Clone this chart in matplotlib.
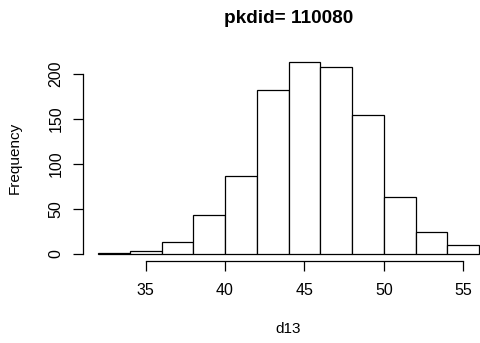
import matplotlib
matplotlib.use('Agg')
import matplotlib.pyplot as plt
import numpy as np

# histogram of d13
bin_edges = [32, 34, 36, 38, 40, 42, 44, 46, 48, 50, 52, 54, 56]
counts = [1, 3, 13, 43, 87, 182, 214, 208, 154, 63, 24, 10]
x_ticks = [35, 40, 45, 50, 55]
y_ticks = [0, 50, 100, 150, 200]

plt.rcParams['font.family'] = ['Liberation Sans', 'DejaVu Sans']

W, H = 480, 343
fig = plt.figure(figsize=(W / 100, H / 100), dpi=100)
# plot region (R style); it runs past the right edge of the picture
left_px, right_px, top_px, bottom_px = 82.7, 494.5, 53.9, 261.4
ax = fig.add_axes([left_px / W, 1 - bottom_px / H,
                   (right_px - left_px) / W, (bottom_px - top_px) / H])

edges = np.array(bin_edges)
ax.bar(edges[:-1], counts, width=np.diff(edges), align='edge',
       color='white', edgecolor='black', linewidth=0.9)

ax.set_xlim(31.04, 56.96)
ax.set_ylim(-8.56, 222.56)

for s in ['top', 'right']:
    ax.spines[s].set_visible(False)
ax.spines['bottom'].set_bounds(x_ticks[0], x_ticks[-1])
ax.spines['left'].set_bounds(y_ticks[0], y_ticks[-1])
for s in ['bottom', 'left']:
    ax.spines[s].set_linewidth(0.9)

ax.set_xticks(x_ticks)
ax.set_yticks(y_ticks)
ax.tick_params(axis='both', length=7, width=0.9, labelsize=11.5, colors='black')
ax.tick_params(axis='x', pad=8.5)
ax.tick_params(axis='y', pad=7)
for lab in ax.get_yticklabels():
    lab.set_rotation(90)
    lab.set_va('center')

ax.set_xlabel('d13', fontsize=11, labelpad=17)
ax.set_ylabel('Frequency', fontsize=11, labelpad=19)
ax.set_title('pkdid= 110080', fontsize=13.7, fontweight='bold', pad=22.5)

fig.savefig('out.png', dpi=100)
